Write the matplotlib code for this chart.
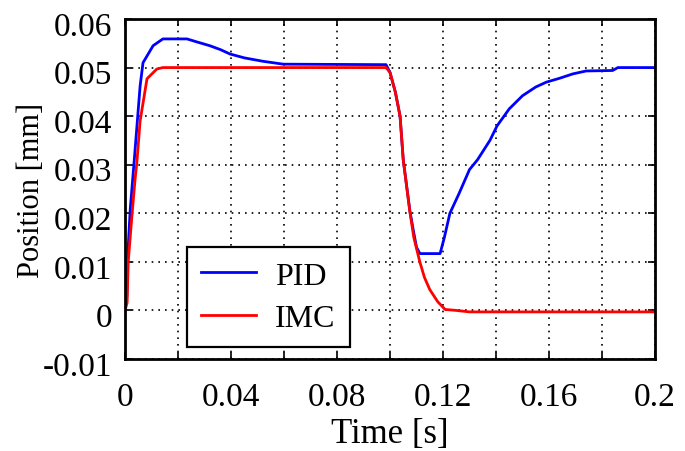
import numpy as np
import matplotlib.pyplot as plt
from matplotlib.transforms import ScaledTranslation

plt.rcParams['font.family'] = ['Liberation Serif', 'DejaVu Serif']

# data
pidT = [0, 0.0007, 0.001, 0.002, 0.0035, 0.0057, 0.0068, 0.0106, 0.0143, 0.0234,
        0.027, 0.032, 0.036, 0.0396, 0.045, 0.052, 0.0597, 0.0985,
        0.100, 0.102, 0.1038, 0.105, 0.1075, 0.1087, 0.110, 0.1113, 0.1189, 0.1205,
        0.1226, 0.126, 0.130, 0.133, 0.1377, 0.1404, 0.145, 0.150, 0.155, 0.159,
        0.164, 0.169, 0.174, 0.184, 0.186, 0.2]
pidY = [0, 0.003, 0.011, 0.021, 0.031, 0.0462, 0.051, 0.0545, 0.0559, 0.0559,
        0.0553, 0.0545, 0.0537, 0.0528, 0.0520, 0.0513, 0.0507, 0.0506,
        0.049, 0.045, 0.040, 0.031, 0.0205, 0.0168, 0.013, 0.0117, 0.0117, 0.015,
        0.020, 0.024, 0.029, 0.031, 0.035, 0.038, 0.0415, 0.0442, 0.046, 0.047,
        0.0478, 0.0487, 0.0493, 0.0494, 0.050, 0.050]

imcT = [0, 0.0008, 0.0012, 0.0026, 0.0038, 0.0045, 0.0057, 0.0083, 0.012, 0.0143,
        0.0985, 0.100, 0.102, 0.1038, 0.105, 0.1075, 0.109, 0.1113, 0.113, 0.115,
        0.118, 0.1208, 0.125, 0.130, 0.2]
imcY = [0, 0.0016, 0.0099, 0.0194, 0.027, 0.0306, 0.039, 0.0477, 0.0497, 0.050,
        0.050, 0.049, 0.045, 0.040, 0.031, 0.0203, 0.015, 0.0099, 0.0068, 0.0043,
        0.0018, 0.0002, 0.0, -0.0003, -0.0003]

xTicks = np.arange(0, 0.2001, 0.02)
xLabels = ['0', '', '0.04', '', '0.08', '', '0.12', '', '0.16', '', '0.2']
yTicks = np.arange(-0.01, 0.0601, 0.01)
yLabels = ['-0.01', '0', '0.01', '0.02', '0.03', '0.04', '0.05', '0.06']

fig = plt.figure(figsize=(6.85, 4.52), dpi=100)
ax = fig.add_axes([125/685, 1 - 360/452, 530/685, 340/452])

ax.plot(pidT, pidY, color='#0000ff', lw=2, label='PID')
ax.plot(imcT, imcY, color='#ff0000', lw=2, label='IMC')

ax.set_xlim(0, 0.2)
ax.set_ylim(-0.01, 0.06)
ax.set_xticks(xTicks)
ax.set_xticklabels(xLabels)
ax.set_yticks(yTicks)
ax.set_yticklabels(yLabels)
ax.tick_params(direction='in', top=True, right=True, length=5, width=1.2,
               labelsize=24)
ax.tick_params(axis='y', pad=9)
ax.tick_params(axis='x', pad=16)
# y labels sit a little below their ticks in the original
shift = ScaledTranslation(0, -4/100, fig.dpi_scale_trans)
for lab in ax.get_yticklabels():
    lab.set_transform(lab.get_transform() + shift)
ax.grid(True, color='black', linestyle=(0, (1, 3)), lw=1.2)
for s in ax.spines.values():
    s.set_linewidth(2)

ax.set_xlabel('Time [s]', fontsize=25, labelpad=4)
ax.set_ylabel('Position [mm]', fontsize=22, labelpad=-2)

leg = ax.legend(loc='lower left', bbox_to_anchor=(0.117, 0.035), borderaxespad=0,
                fancybox=False, edgecolor='black', fontsize=23, handlelength=1.7,
                handletextpad=0.6, borderpad=0.45, labelspacing=0.4, framealpha=1)
leg.get_frame().set_linewidth(1.6)

fig.savefig('out.png', dpi=100)
